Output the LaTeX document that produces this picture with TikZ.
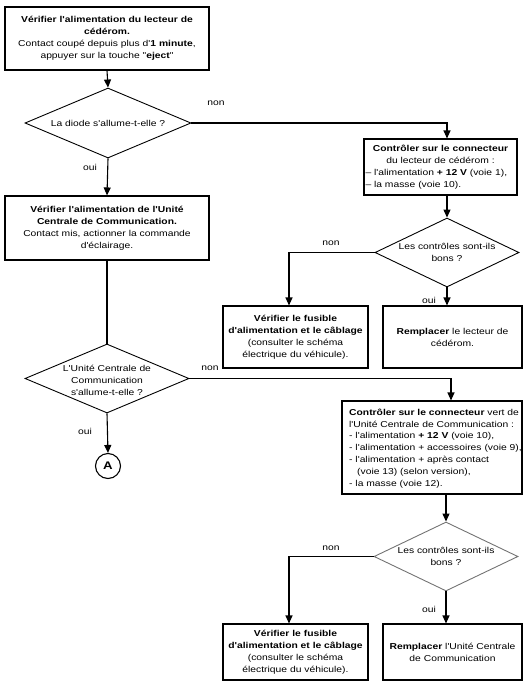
\documentclass[tikz,border=0pt]{standalone}
\usepackage{fontspec}
\setmainfont{Liberation Sans}[Ligatures=TeXOff, FakeStretch=1.2]
\usetikzlibrary{shapes.geometric,arrows.meta}
\begin{document}
\begin{tikzpicture}[x=1pt,y=-1pt,
  font=\fontsize{8.6}{11.9}\selectfont,
  box/.style={draw, line width=1.1pt, inner sep=0pt, align=center},
  dia/.style={draw, shape=diamond, line width=0.9pt, inner sep=0pt},
  arr/.style={line width=1.1pt, -{Triangle[width=7pt,length=8pt]}},
  ln/.style={line width=1.1pt},
  lab/.style={inner sep=0pt}]
\useasboundingbox (0,0) rectangle (532,686);
% boxes
\node[box, minimum width=204pt, minimum height=63pt, text width=198pt] (b1) at (107,38.5)
  {\textbf{Vérifier l'alimentation du lecteur de}\\\textbf{cédérom.}\\Contact coupé depuis plus d'\textbf{1 minute},\\appuyer sur la touche "\textbf{eject}"};
\node[dia, minimum width=166pt, minimum height=70pt] (d1) at (108,123) {};
\node[lab] (t1) at (d1) {La diode s'allume-t-elle ?};
\node[box, minimum width=153pt, minimum height=56pt, text width=150pt, align=left] (b2) at (440.5,167)
  {{\centering\textbf{Contrôler sur le connecteur}\\du lecteur de cédérom :\par}\raggedright – l'alimentation \textbf{+ 12 V} (voie 1),\\– la masse (voie 10).};
\node[dia, minimum width=144pt, minimum height=69pt] (d2) at (447,252.5) {};
\node[lab, align=center] (t2) at (d2) {Les contrôles sont-ils\\bons ?};
\node[box, minimum width=145pt, minimum height=62pt, text width=142pt] (b5) at (295.5,337)
  {\textbf{Vérifier le fusible}\\\textbf{d'alimentation et le câblage}\\(consulter le schéma\\électrique du véhicule).};
\node[box, minimum width=139pt, minimum height=62pt, text width=134pt] (b6) at (452.5,337)
  {\textbf{Remplacer} le lecteur de\\cédérom.};
\node[box, minimum width=204pt, minimum height=64pt, text width=198pt] (b3) at (107,228)
  {\textbf{Vérifier l'alimentation de l'Unité}\\\textbf{Centrale de Communication.}\\Contact mis, actionner la commande\\d'éclairage.};
\node[dia, minimum width=164pt, minimum height=69pt] (d3) at (107,378.5) {};
\node[lab, align=center] (t3) at (107,380.5) {L'Unité Centrale de\\Communication\\s'allume-t-elle ?};
\node[draw, circle, line width=1.1pt, minimum size=25pt, inner sep=0pt, font=\fontsize{11}{12}\selectfont\bfseries] (A) at (108,466) {A};
\node[box, minimum width=180pt, minimum height=93pt] (b4) at (432,447.5) {};
\node[lab, anchor=west, align=left] (t4) at (349,448.5)
  {\textbf{Contrôler sur le connecteur} vert de\\l'Unité Centrale de Communication :\\- l'alimentation \textbf{+ 12 V} (voie 10),\\- l'alimentation + accessoires (voie 9),\\- l'alimentation + après contact\\\hspace*{8pt}(voie 13) (selon version),\\- la masse (voie 12).};
\node[dia, draw=black!55, minimum width=144pt, minimum height=69pt] (d4) at (446,556.5) {};
\node[lab, align=center] (t5) at (d4) {Les contrôles sont-ils\\bons ?};
\node[box, minimum width=145pt, minimum height=56pt, text width=142pt] (b7) at (295.5,652)
  {\textbf{Vérifier le fusible}\\\textbf{d'alimentation et le câblage}\\(consulter le schéma\\électrique du véhicule).};
\node[box, minimum width=139pt, minimum height=56pt, text width=134pt] (b8) at (452.5,652)
  {\textbf{Remplacer} l'Unité Centrale\\de Communication};
% labels
\node[lab] (n1) at (216,103) {non};
\node[lab] (o1) at (90,167) {oui};
\node[lab] (n2) at (331,243) {non};
\node[lab] (o2) at (429,300) {oui};
\node[lab] (n3) at (210,368) {non};
\node[lab] (o3) at (85,431) {oui};
\node[lab] (n4) at (331,548) {non};
\node[lab] (o4) at (429,609) {oui};
% connectors
\draw[arr] (b1.south) -- (d1.north);
\draw[arr] (d1.east) -| (d2.north |- b2.north);
\draw[arr] (d1.south) -- (b3.north);
\draw[arr] (d2.north |- b2.south) -- (d2.north);
\draw[arr] (d2.west) -| ([xshift=-6.5pt]b5.north);
\draw[arr] (d2.south) -- (d2.south |- b6.north);
\draw[ln] (b3.south) -- (d3.north);
\draw[arr] (d3.south) -- (A.north);
\draw[arr] (d3.east) -| ([xshift=19pt]b4.north);
\draw[arr] (d4.north |- b4.south) -- (d4.north);
\draw[arr] (d4.west) -| ([xshift=-6.5pt]b7.north);
\draw[arr] (d4.south) -- (d4.south |- b8.north);
\end{tikzpicture}
\end{document}
